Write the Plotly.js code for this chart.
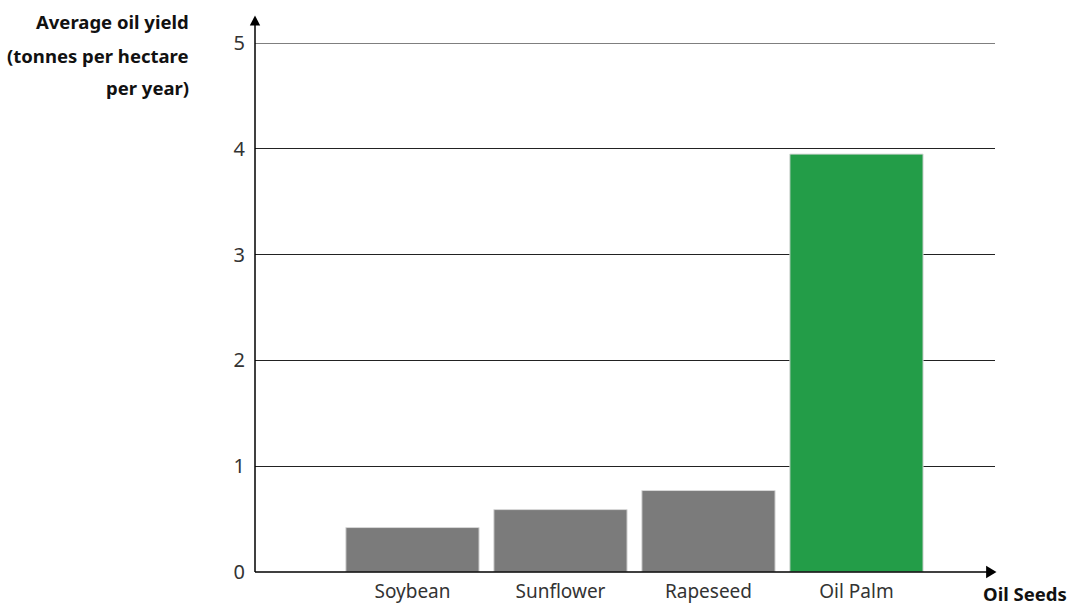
<!DOCTYPE html>
<html>
<head>
<meta charset="utf-8">
<script src="https://cdn.plot.ly/plotly-3.0.1.min.js"></script>
<style>html,body{margin:0;padding:0;background:#fff;}#chart{width:1069px;height:605px;}</style>
</head>
<body>
<div id="chart"></div>
<script>
const categories = ["Soybean", "Sunflower", "Rapeseed", "Oil Palm"];
const yieldValues = [0.42, 0.59, 0.77, 3.95];
const barColors = ["#7b7b7b", "#7b7b7b", "#7b7b7b", "#239d48"];
const yTicks = [0, 1, 2, 3, 4, 5];
const yTitleLines = ["Average oil yield", "(tonnes per hectare", "per year)"];
const xTitle = "Oil Seeds";

const font = "Noto Sans, Open Sans, sans-serif";

const trace = {
  type: "bar",
  x: categories,
  y: yieldValues,
  marker: {color: barColors, line: {color: "#d8d8d8", width: 1}},
  hoverinfo: "none"
};

const titleY = [1.0397, 0.9773, 0.9168];

const layout = {
  width: 1069, height: 605,
  margin: {l: 255, r: 74, t: 43, b: 33},
  paper_bgcolor: "#fff", plot_bgcolor: "#fff",
  showlegend: false,
  bargap: 0.1,
  font: {family: font, color: "#222", size: 18},
  xaxis: {
    type: "category",
    range: [-1.064, 3.936],
    showgrid: false,
    showline: false,
    zeroline: false,
    ticks: "",
    tickfont: {size: 19, color: "#333"},
    ticklabelstandoff: 6
  },
  yaxis: {
    range: [0, 5],
    tickvals: yTicks,
    ticktext: yTicks.map(String),
    showgrid: true,
    gridcolor: "#222",
    gridwidth: 1,
    zeroline: false,
    showline: false,
    ticks: "",
    tickfont: {size: 20, color: "#333"},
    ticklabelstandoff: 9
  },
  shapes: [
    {type: "line", xref: "paper", yref: "y", x0: 0, x1: 1, y0: 5, y1: 5, line: {color: "#000", width: 1}},
    {type: "line", xref: "paper", yref: "paper", x0: 0, x1: 0, y0: 0, y1: 1.04, line: {color: "#000", width: 1.5}},
    {type: "line", xref: "paper", yref: "paper", x0: 0, x1: 0.99, y0: 0, y1: 0, line: {color: "#000", width: 1.5}},
    {type: "path", xref: "paper", yref: "paper", path: "M -0.007 1.033 L 0.007 1.033 L 0 1.052 Z", fillcolor: "#000", line: {width: 0}},
    {type: "path", xref: "paper", yref: "paper", path: "M 0.988 0.012 L 0.988 -0.012 L 1.002 0 Z", fillcolor: "#000", line: {width: 0}}
  ],
  annotations: yTitleLines.map((t, i) => ({
    xref: "paper", yref: "paper", x: -0.0865, y: titleY[i], xanchor: "right", yanchor: "middle", align: "right",
    showarrow: false, text: "<b>" + t + "</b>",
    font: {family: font, size: 18.5, color: "#111"}
  })).concat([
    {xref: "paper", yref: "paper", x: 1.1, y: -0.041, xanchor: "right", yanchor: "middle",
     showarrow: false, text: "<b>" + xTitle + "</b>", font: {family: font, size: 18.5, color: "#111"}}
  ])
};

Plotly.newPlot("chart", [trace], layout, {displayModeBar: false, staticPlot: true});
</script>
</body>
</html>
